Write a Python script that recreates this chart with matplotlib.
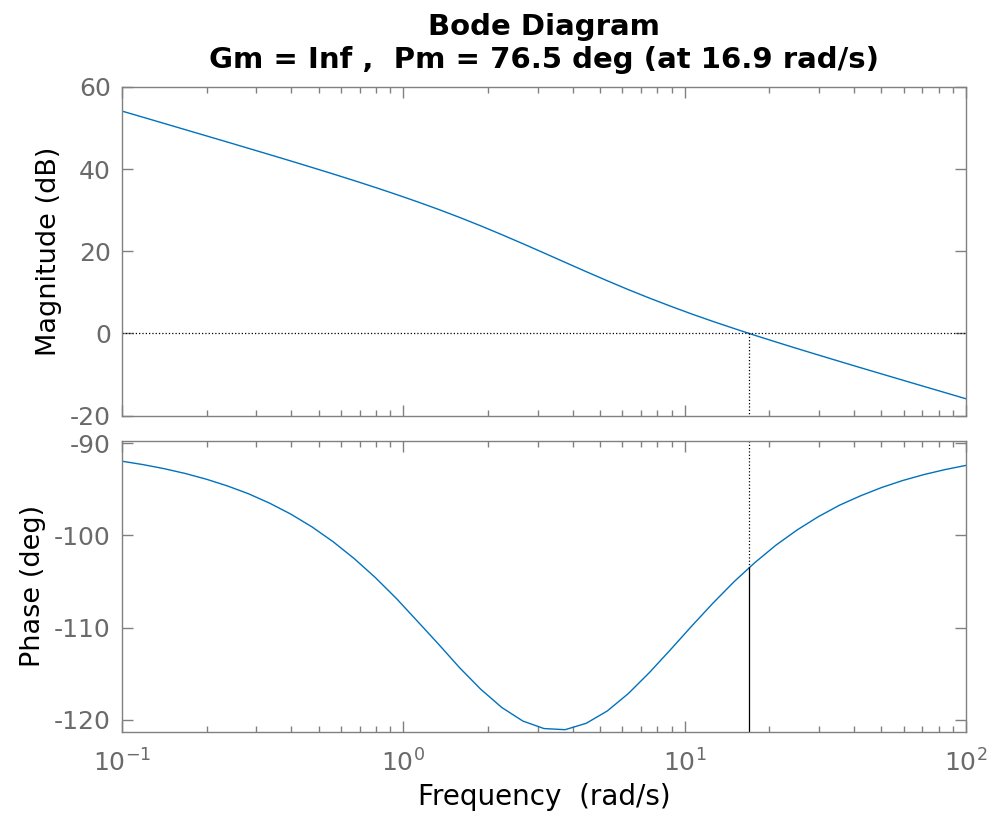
import matplotlib

matplotlib.use('AGG')  # noqa

import matplotlib.pyplot as plt
from matplotlib.ticker import LogLocator, NullFormatter

plt.rcParams['axes.unicode_minus'] = False

# frequency samples (rad/s) and response
freq = [0.1, 0.1189, 0.1413, 0.1679, 0.1995, 0.2371, 0.2818, 0.3350, 0.3981,
        0.4732, 0.5623, 0.6683, 0.7943, 0.9441, 1.122, 1.334, 1.585, 1.884,
        2.239, 2.661, 3.162, 3.758, 4.467, 5.309, 6.310, 7.499, 8.913, 10.59,
        12.59, 14.96, 17.78, 21.13, 25.12, 29.85, 35.48, 42.17, 50.12, 59.57,
        70.79, 84.14, 100.0]
mag_db = [54.13, 52.63, 51.12, 49.61, 48.10, 46.59, 45.06, 43.53, 41.99,
          40.42, 38.84, 37.22, 35.56, 33.84, 32.06, 30.20, 28.25, 26.20,
          24.06, 21.85, 19.60, 17.32, 15.05, 12.83, 10.67, 8.61, 6.64, 4.75,
          2.95, 1.23, -0.45, -2.07, -3.67, -5.23, -6.78, -8.32, -9.84,
          -11.36, -12.87, -14.38, -15.89]
phase_deg = [-91.97, -92.34, -92.78, -93.30, -93.92, -94.65, -95.50, -96.52,
             -97.70, -99.08, -100.68, -102.51, -104.56, -106.83, -109.30,
             -111.79, -114.34, -116.67, -118.65, -120.12, -120.93, -121.05,
             -120.36, -119.02, -117.13, -114.85, -112.37, -109.83, -107.36,
             -105.04, -102.94, -101.05, -99.41, -97.98, -96.74, -95.72,
             -94.82, -94.06, -93.42, -92.88, -92.42]

wc = 16.9   # gain crossover (rad/s)
pm = 76.5   # phase margin (deg)

blue = '#0072BD'
grey = '#808080'
lab = '#6a6a6a'

fig = plt.figure(figsize=(9.92, 8.16), dpi=100)
ax1 = fig.add_axes([0.1230, 0.4906, 0.8508, 0.4028])
ax2 = fig.add_axes([0.1230, 0.1033, 0.8508, 0.3566], sharex=ax1)

ax1.semilogx(freq, mag_db, color=blue, lw=1.0)
ax1.axhline(0, color='k', ls=':', lw=0.9)
ax1.plot([wc, wc], [0, -20], color='k', ls=':', lw=0.9)

ax2.semilogx(freq, phase_deg, color=blue, lw=1.0)
ph_c = pm - 180
ax2.plot([wc, wc], [ph_c, -89.75], color='k', ls=':', lw=0.9)
ax2.plot([wc, wc], [-121.27, ph_c], color='k', lw=0.9)

ax1.set_xlim(0.1, 100)
ax1.set_ylim(-20, 60)
ax1.set_yticks([-20, 0, 20, 40, 60])
ax2.set_ylim(-121.27, -89.75)
ax2.set_yticks([-120, -110, -100, -90])

for ax in (ax1, ax2):
    ax.xaxis.set_major_locator(LogLocator(base=10, numticks=10))
    ax.xaxis.set_minor_locator(LogLocator(base=10, subs=range(2, 10), numticks=10))
    ax.xaxis.set_minor_formatter(NullFormatter())
    ax.tick_params(which='both', direction='in', top=True, right=True,
                   color=grey, labelcolor=lab, labelsize=18, width=1.0)
    ax.tick_params(which='major', length=8)
    ax.tick_params(which='minor', length=4)
    ax.tick_params(axis='y', pad=8)
    for s in ax.spines.values():
        s.set_color(grey)
        s.set_linewidth(1.0)

ax1.tick_params(labelbottom=False)
ax2.tick_params(axis='x', pad=13)

ax1.set_ylabel('Magnitude (dB)', fontsize=19.5, labelpad=6)
ax2.set_ylabel('Phase (deg)', fontsize=19.5, labelpad=6)
ax2.set_xlabel('Frequency  (rad/s)', fontsize=20, labelpad=4)
ax1.set_title('Bode Diagram\nGm = Inf ,  Pm = 76.5 deg (at 16.9 rad/s)',
              fontsize=21, fontweight='bold', pad=14, linespacing=1.22)

plt.savefig('out.png', dpi=100)
